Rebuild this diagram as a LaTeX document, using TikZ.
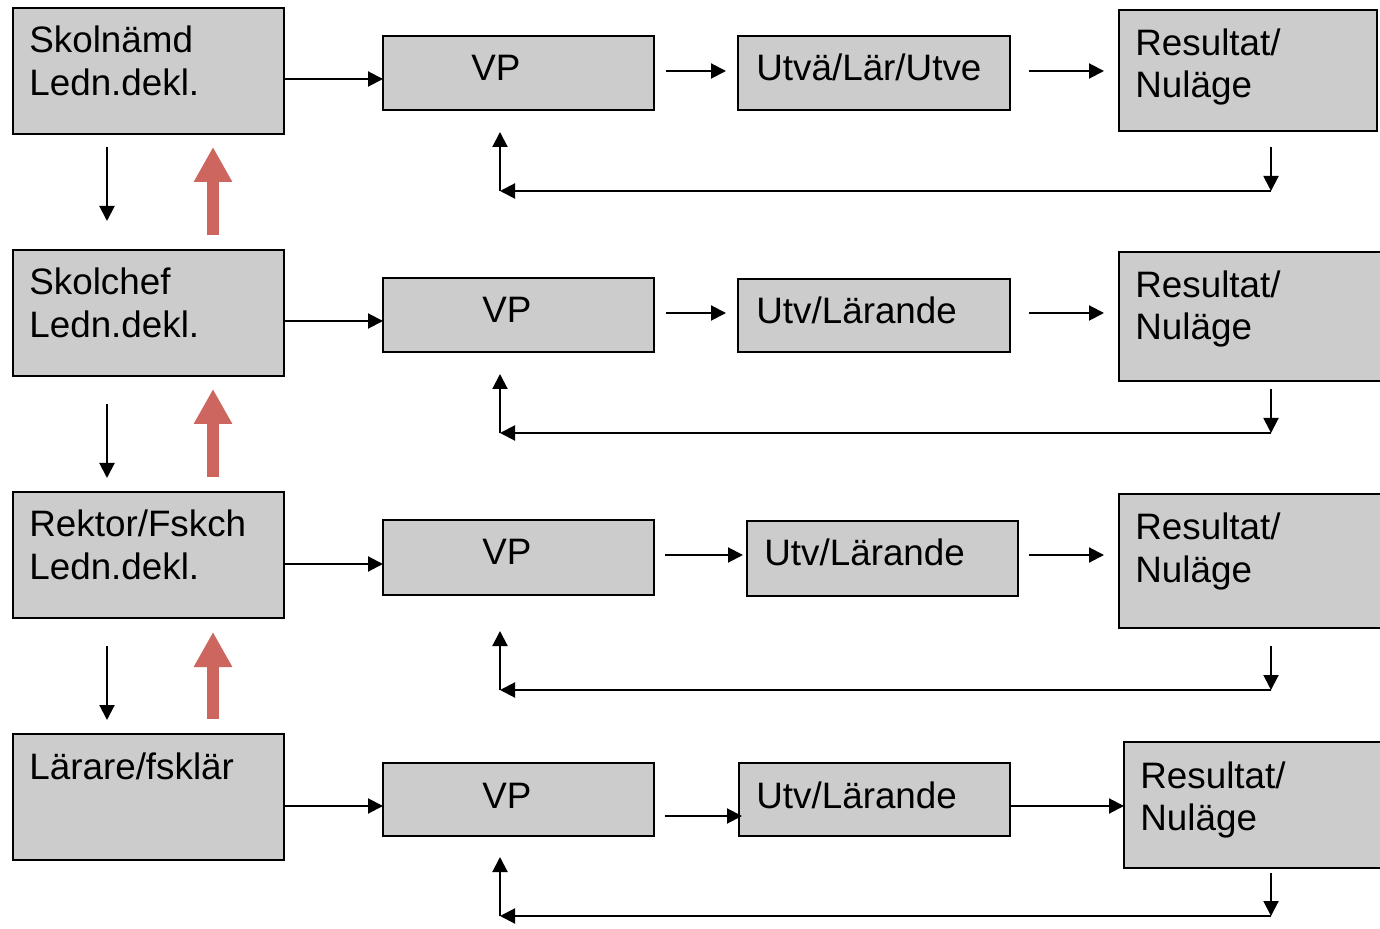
\documentclass[tikz,border=0pt]{standalone}
\usepackage{fontspec}
\setmainfont{Liberation Sans}
\usetikzlibrary{arrows.meta,fit}
\definecolor{boxgray}{RGB}{204,204,204}
\definecolor{redarrow}{RGB}{205,102,94}
\begin{document}
\begin{tikzpicture}[x=0.5pt,y=-0.5pt,
  box/.style={draw=black, line width=1.3pt, fill=boxgray, inner sep=0pt, outer sep=0pt},
  txt/.style={anchor=base west, inner sep=0pt, font=\fontsize{18.4pt}{22pt}\selectfont},
  arr/.style={line width=1pt, -{Triangle[length=7.5pt,width=7.5pt]}},
  redup/.style={line width=6pt, draw=redarrow, -{Triangle[length=17.5pt,width=18pt]}},
  redshadow/.style={line width=6pt, draw=black, opacity=0.12, -{Triangle[length=17.5pt,width=18pt]}}]
\useasboundingbox (0,0) rectangle (1380,929);

% ---------- boxes ----------
\node[box, fit={(13,8) (284,134)}] (l1) {};
\node[box, fit={(13,250) (284,376)}] (l2) {};
\node[box, fit={(13,492) (284,618)}] (l3) {};
\node[box, fit={(13,734) (284,860)}] (l4) {};
\node[box, fit={(383,36) (654,110)}] (v1) {};
\node[box, fit={(383,278) (654,352)}] (v2) {};
\node[box, fit={(383,520) (654,595)}] (v3) {};
\node[box, fit={(383,763) (654,836)}] (v4) {};
\node[box, fit={(738,36) (1010,110)}] (u1) {};
\node[box, fit={(738,279) (1010,352)}] (u2) {};
\node[box, fit={(747,521) (1018,596)}] (u3) {};
\node[box, fit={(739,763) (1010,836)}] (u4) {};
\node[box, fit={(1119,10) (1377,131)}] (r1) {};
\node[box, fit={(1119,252) (1400,381)}] (r2) {};
\node[box, fit={(1119,494) (1400,628)}] (r3) {};
\node[box, fit={(1124,742) (1400,868)}] (r4) {};

% ---------- texts ----------
\node[txt] (l1a) at (29,53) {Skolnämd};
\node[txt] (l1b) at (29,96) {Ledn.dekl.};
\node[txt] (l2a) at (29,295) {Skolchef};
\node[txt] (l2b) at (29,338) {Ledn.dekl.};
\node[txt] (l3a) at (29,537) {Rektor/Fskch};
\node[txt] (l3b) at (29,580) {Ledn.dekl.};
\node[txt] (l4a) at (29,779) {Lärare/fsklär};

\node[txt] (v1t) at (471,81) {VP};
\node[txt] (v2t) at (482,323) {VP};
\node[txt] (v3t) at (482,565) {VP};
\node[txt] (v4t) at (482,808) {VP};

\node[txt] (u1t) at (756,81) {Utvä/Lär/Utve};
\node[txt] (u2t) at (756,324) {Utv/Lärande};
\node[txt] (u3t) at (764,566) {Utv/Lärande};
\node[txt] (u4t) at (756,808) {Utv/Lärande};

\node[txt] (r1a) at (1135,56) {Resultat/};
\node[txt] (r1b) at (1135,98) {Nuläge};
\node[txt] (r2a) at (1135,298) {Resultat/};
\node[txt] (r2b) at (1135,340) {Nuläge};
\node[txt] (r3a) at (1135,540) {Resultat/};
\node[txt] (r3b) at (1135,582) {Nuläge};
\node[txt] (r4a) at (1140,788) {Resultat/};
\node[txt] (r4b) at (1140,830) {Nuläge};

% ---------- level coordinates ----------
\coordinate (ha1) at (0,79);  \coordinate (hb1) at (0,71);  \coordinate (hc1) at (0,71);
\coordinate (ha2) at (0,321); \coordinate (hb2) at (0,313); \coordinate (hc2) at (0,313);
\coordinate (ha3) at (0,564); \coordinate (hb3) at (0,555); \coordinate (hc3) at (0,555);
\coordinate (ha4) at (0,806); \coordinate (hb4) at (0,816); \coordinate (hc4) at (0,806);

% ---------- row connectors ----------
\draw[arr] (l1.east |- ha1) -- (v1.west |- ha1);
\draw[arr] (l2.east |- ha2) -- (v2.west |- ha2);
\draw[arr] (l3.east |- ha3) -- (v3.west |- ha3);
\draw[arr] (l4.east |- ha4) -- (v4.west |- ha4);

\draw[arr, shorten <=6pt, shorten >=6pt] (v1.east |- hb1) -- (u1.west |- hb1);
\draw[arr, shorten <=6pt, shorten >=6pt] (v2.east |- hb2) -- (u2.west |- hb2);
\draw[arr, shorten <=5.5pt, shorten >=2pt] (v3.east |- hb3) -- (u3.west |- hb3);
\draw[arr, shorten <=5.5pt, shorten >=-1.5pt] (v4.east |- hb4) -- (u4.west |- hb4);

\draw[arr, shorten <=9.5pt, shorten >=7.5pt] (u1.east |- hc1) -- (r1.west |- hc1);
\draw[arr, shorten <=9.5pt, shorten >=7.5pt] (u2.east |- hc2) -- (r2.west |- hc2);
\draw[arr, shorten <=5.5pt, shorten >=7.5pt] (u3.east |- hc3) -- (r3.west |- hc3);
\draw[arr] (u4.east |- hc4) -- (r4.west |- hc4);

% ---------- feedback loops ----------
\coordinate (fr1) at (1271,191); \coordinate (fl1) at (500,191);
\coordinate (fr2) at (1271,433); \coordinate (fl2) at (500,433);
\coordinate (fr3) at (1271,690); \coordinate (fl3) at (500,690);
\coordinate (fr4) at (1271,916); \coordinate (fl4) at (500,916);

\draw[arr, shorten <=8pt] (r1.south -| fr1) -- (fr1);
\draw[arr] (fr1) -- (fl1);
\draw[arr, shorten >=11pt] (fl1) -- (v1.south -| fl1);

\draw[arr, shorten <=4pt] (r2.south -| fr2) -- (fr2);
\draw[arr] (fr2) -- (fl2);
\draw[arr, shorten >=11pt] (fl2) -- (v2.south -| fl2);

\draw[arr, shorten <=9pt] (r3.south -| fr3) -- (fr3);
\draw[arr] (fr3) -- (fl3);
\draw[arr, shorten >=18pt] (fl3) -- (v3.south -| fl3);

\draw[arr, shorten <=2.5pt] (r4.south -| fr4) -- (fr4);
\draw[arr] (fr4) -- (fl4);
\draw[arr, shorten >=10.5pt] (fl4) -- (v4.south -| fl4);

% ---------- left column arrows ----------
\coordinate (dx) at (107,0);
\coordinate (rx) at (213,0);
\draw[arr, shorten <=6.5pt, shorten >=14.5pt] (l1.south -| dx) -- (l2.north -| dx);
\draw[arr, shorten <=14pt, shorten >=7pt] (l2.south -| dx) -- (l3.north -| dx);
\draw[arr, shorten <=14pt, shorten >=7pt] (l3.south -| dx) -- (l4.north -| dx);

\begin{scope}[shift={(2,4)}]
\draw[redshadow, shorten <=7.5pt, shorten >=6.5pt] (l2.north -| rx) -- (l1.south -| rx);
\draw[redshadow, shorten <=7.5pt, shorten >=6.5pt] (l3.north -| rx) -- (l2.south -| rx);
\draw[redshadow, shorten <=7.5pt, shorten >=7pt] (l4.north -| rx) -- (l3.south -| rx);
\end{scope}
\draw[redup, shorten <=7.5pt, shorten >=6.5pt] (l2.north -| rx) -- (l1.south -| rx);
\draw[redup, shorten <=7.5pt, shorten >=6.5pt] (l3.north -| rx) -- (l2.south -| rx);
\draw[redup, shorten <=7.5pt, shorten >=7pt] (l4.north -| rx) -- (l3.south -| rx);
\end{tikzpicture}
\end{document}
